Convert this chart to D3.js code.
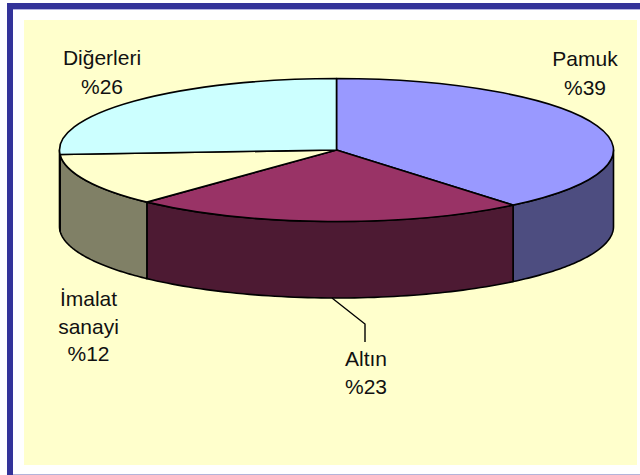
<!DOCTYPE html>
<html>
<head>
<meta charset="utf-8">
<script src="https://cdn.jsdelivr.net/npm/d3@7"></script>
<style>
  html, body { margin: 0; padding: 0; background: #fff; overflow: hidden; }
  svg { display: block; }
  text { font-family: "Liberation Sans", Arial, sans-serif; font-size: 21px; fill: #111; text-anchor: middle; }
</style>
</head>
<body>
<svg id="chart" width="640" height="475"></svg>
<script>
// data
var categories = ["Pamuk", "Altın", "İmalat sanayi", "Diğerleri"];
var shares = [39, 23, 12, 26];
var labelLines = [["Pamuk", "%39"], ["Altın", "%23"], ["İmalat", "sanayi", "%12"], ["Diğerleri", "%26"]];

var topColors = ["#9999ff", "#993366", "#ffffcc", "#ccffff"];
var wallColors = ["#4d4d80", "#4d1a33", "#808066", "#666680"];
// first-line baseline of each label
var labelPos = [[585, 66], [366, 366], [88.5, 306], [102, 65]];
var lineGap = [29, 27.5, 27.5, 29];

var cx = 336.5, cy = 150, rx = 277, ry = 71.5, depth = 76.5;

var svg = d3.select("#chart");

// frame: blue on top and left, thin lavender line inside and along the bottom
svg.append("rect").attr("x", 7).attr("y", 3).attr("width", 633).attr("height", 6).attr("fill", "#333399");
svg.append("rect").attr("x", 7).attr("y", 3).attr("width", 6).attr("height", 472).attr("fill", "#333399");
svg.append("rect").attr("x", 13).attr("y", 9).attr("width", 627).attr("height", 1).attr("fill", "#b3b3e0");
svg.append("rect").attr("x", 13).attr("y", 474).attr("width", 627).attr("height", 1).attr("fill", "#b3b3d9");
svg.append("rect").attr("x", 24).attr("y", 20).attr("width", 613).attr("height", 445).attr("fill", "#ffffcc");

var pie = d3.pie().sort(null).value(function (d) { return d; });
var slices = pie(shares);

// walls: only the front half of the rim is visible
var rimX = function (a) { return cx + rx * Math.sin(a); };
var rimY = function (a) { return cy - ry * Math.cos(a); };

function wallPath(d) {
  var a0 = Math.max(d.startAngle, Math.PI / 2);
  var a1 = Math.min(d.endAngle, 3 * Math.PI / 2);
  if (a1 <= a0) return null;
  var steps = d3.range(0, 61).map(function (i) { return a0 + (a1 - a0) * i / 60; });
  var pts = steps.map(function (a) { return [rimX(a), rimY(a)]; })
    .concat(steps.slice().reverse().map(function (a) { return [rimX(a), rimY(a) + depth]; }));
  return d3.line()(pts) + "Z";
}

svg.append("g").selectAll("path")
  .data(slices)
  .enter().append("path")
  .attr("d", wallPath)
  .attr("fill", function (d, i) { return wallColors[i]; })
  .attr("stroke", "#000")
  .attr("stroke-width", 1.6)
  .attr("stroke-linejoin", "round");

// top face
var arc = d3.arc().innerRadius(0).outerRadius(rx);
svg.append("g")
  .attr("transform", "translate(" + cx + "," + cy + ") scale(1," + (ry / rx) + ")")
  .selectAll("path")
  .data(slices)
  .enter().append("path")
  .attr("d", arc)
  .attr("fill", function (d, i) { return topColors[i]; })
  .attr("stroke", "#000")
  .attr("stroke-width", 1.6)
  .attr("stroke-linejoin", "round")
  .attr("vector-effect", "non-scaling-stroke");

// leader line for Altın
svg.append("path")
  .attr("d", d3.line()([[332, 298], [365, 324], [365, 342]]))
  .attr("fill", "none")
  .attr("stroke", "#000")
  .attr("stroke-width", 1.4);

// labels
var labels = svg.append("g").selectAll("text")
  .data(labelLines)
  .enter().append("text")
  .attr("transform", function (d, i) { return "translate(" + labelPos[i] + ")"; });

labels.each(function (lines, n) {
  d3.select(this).selectAll("tspan")
    .data(lines)
    .enter().append("tspan")
    .attr("x", 0)
    .attr("y", function (d, i) { return i * lineGap[n]; })
    .text(function (d) { return d; });
});
</script>
</body>
</html>
